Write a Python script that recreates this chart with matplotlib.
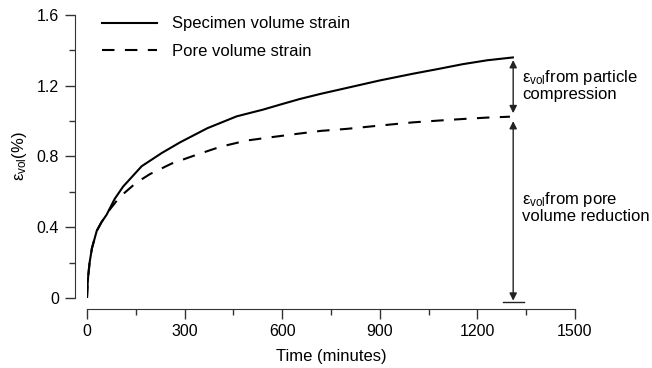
import numpy as np
import matplotlib
matplotlib.use('Agg')
import matplotlib.pyplot as plt

plt.rcParams['font.family'] = ['Liberation Sans', 'DejaVu Sans']
plt.rcParams['mathtext.default'] = 'regular'

t_spec = [0, 2, 4, 8, 15, 30, 45, 60, 85, 111, 168, 230, 286, 370, 460,
          541, 593, 654, 720, 797, 900, 1002, 1080, 1155, 1230, 1309]
v_spec = [0, 0.08, 0.13, 0.2, 0.28, 0.38, 0.43, 0.47, 0.56, 0.63, 0.745,
          0.82, 0.88, 0.96, 1.027, 1.065, 1.093, 1.125, 1.155, 1.187,
          1.23, 1.268, 1.295, 1.322, 1.344, 1.36]

t_pore = [0, 2, 4, 8, 15, 30, 45, 60, 70, 100, 150, 193, 260, 337, 410,
          490, 570, 654, 720, 797, 900, 1002, 1080, 1155, 1230, 1300]
v_pore = [0, 0.08, 0.13, 0.2, 0.28, 0.38, 0.43, 0.47, 0.5, 0.57, 0.65,
          0.70, 0.76, 0.81, 0.855, 0.89, 0.91, 0.93, 0.945, 0.956, 0.975,
          0.993, 1.003, 1.012, 1.02, 1.025]

xticks = [0, 300, 600, 900, 1200, 1500]
yticks = [0, 0.4, 0.8, 1.2, 1.6]
ytick_labels = ['0', '0.4', '0.8', '1.2', '1.6']

t_arrow = 1310
top_spec, top_pore, bottom = 1.36, 1.025, -0.02

fig = plt.figure(figsize=(6.52, 3.68), dpi=100)
ax = fig.add_axes([87/652, 70/368, 488/652, 283/368])

ax.plot(t_spec, v_spec, 'k-', lw=1.5, label='Specimen volume strain')
ax.plot(t_pore, v_pore, 'k--', lw=1.5, dashes=(6, 5), label='Pore volume strain')

ax.set_xlim(0, 1500)
ax.set_ylim(0, 1.6)
for s in ['top', 'right']:
    ax.spines[s].set_visible(False)
ax.spines['left'].set_position(('outward', 9))
ax.spines['bottom'].set_position(('outward', 8))
ax.spines['left'].set_color('#333333')
ax.spines['bottom'].set_color('#333333')

ax.set_xticks(xticks)
ax.set_xticks(np.arange(150, 1500, 300), minor=True)
ax.set_yticks(yticks)
ax.set_yticklabels(ytick_labels)
ax.set_yticks(np.arange(0.2, 1.6, 0.4), minor=True)
ax.tick_params(which='major', length=7.5, width=1, direction='out',
               labelsize=11.5, color='#333333')
ax.tick_params(which='minor', length=4.5, width=1, direction='out',
               color='#333333')

ax.set_xlabel('Time (minutes)', fontsize=12, labelpad=7)
ax.set_ylabel(r'ε$_{vol}$(%)', fontsize=12, labelpad=6)

ax.legend(loc='upper left', bbox_to_anchor=(0.0, 1.048), frameon=False,
          fontsize=12, handlelength=3.3, handletextpad=0.9, labelspacing=0.73)

arrow = dict(arrowstyle='<|-|>', color='#222222', lw=1, mutation_scale=11,
             shrinkA=0, shrinkB=0)
ax.annotate('', xy=(t_arrow, top_spec - 0.015), xytext=(t_arrow, top_pore + 0.02),
            arrowprops=arrow, annotation_clip=False)
ax.annotate('', xy=(t_arrow, top_pore - 0.025), xytext=(t_arrow, bottom + 0.005),
            arrowprops=arrow, annotation_clip=False)
ax.plot([t_arrow - 32, t_arrow + 32], [bottom, bottom], color='#222222',
        lw=1, clip_on=False)

ax.text(1338, 1.30, 'ε$_{vol}$from particle\ncompression', fontsize=12,
        va='top', ha='left', linespacing=1.0)
ax.text(1338, 0.61, 'ε$_{vol}$from pore\nvolume reduction', fontsize=12,
        va='top', ha='left', linespacing=1.0)

fig.savefig('out.png', dpi=100)
